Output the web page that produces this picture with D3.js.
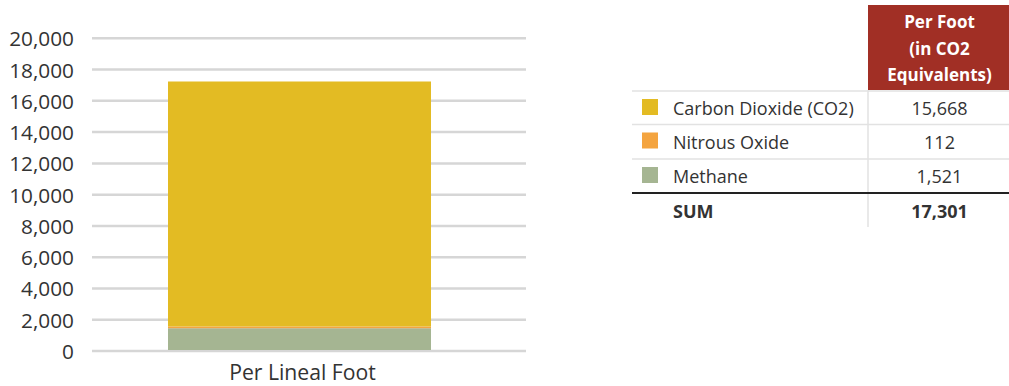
<!DOCTYPE html>
<html>
<head>
<meta charset="utf-8">
<script src="https://cdn.jsdelivr.net/npm/d3@7"></script>
<style>
  body { margin: 0; background: #fff; }
  svg { display: block; font-family: "Open Sans", "Noto Sans", sans-serif; }
</style>
</head>
<body>
<div id="chart"></div>
<script>
// data
const gases = ["Carbon Dioxide (CO2)", "Nitrous Oxide", "Methane"];
const gasKeys = ["co2", "n2o", "ch4"];
const perFoot = [15668, 112, 1521];
const gasColors = ["#e3bb23", "#f4a43f", "#a5b592"];
const category = "Per Lineal Foot";
const yTicks = [0, 2000, 4000, 6000, 8000, 10000, 12000, 14000, 16000, 18000, 20000];
const headerLines = ["Per Foot", "(in CO2", "Equivalents)"];
const sumLabel = "SUM";

const width = 1009, height = 386;

const svg = d3.select("#chart").append("svg")
    .attr("width", width)
    .attr("height", height);

// scales
const y = d3.scaleLinear().domain([0, 20000]).range([351, 38.3]);
const x = d3.scaleBand().domain([category]).range([92, 507])
    .paddingInner(0).paddingOuter(0.289);
const fmt = d3.format(",");

// gridlines
svg.append("g")
    .selectAll("line")
    .data(yTicks)
    .join("line")
    .attr("x1", 92).attr("x2", 526)
    .attr("y1", d => y(d)).attr("y2", d => y(d))
    .attr("stroke", "#d6d6d6")
    .attr("stroke-width", 2.5);

// y axis labels
const yAxis = svg.append("g")
    .attr("transform", "translate(74,0)")
    .call(d3.axisLeft(y).tickValues(yTicks).tickFormat(fmt).tickSize(0).tickPadding(0));
yAxis.select(".domain").remove();
yAxis.selectAll("text")
    .attr("font-family", "'Open Sans', sans-serif")
    .attr("font-size", 20.8)
    .attr("fill", "#333")
    .attr("dy", "0.36em");

// stacked bar: methane at the bottom, then nitrous oxide, then CO2
const row = { cat: category };
gasKeys.forEach((k, i) => row[k] = perFoot[i]);
const order = ["ch4", "n2o", "co2"];
const stacked = d3.stack().keys(order)([row]);
const colorOf = k => gasColors[gasKeys.indexOf(k)];

svg.append("g")
    .attr("transform", "translate(0,1)")
    .selectAll("rect")
    .data(stacked)
    .join("rect")
    .attr("x", x(category))
    .attr("width", x.bandwidth())
    .attr("y", d => y(d[0][1]))
    .attr("height", d => y(d[0][0]) - y(d[0][1]) - (d.key === "ch4" ? 2 : 0))
    .attr("fill", d => colorOf(d.key));

// x label
svg.append("text")
    .attr("x", x(category) + x.bandwidth() / 2 + 3)
    .attr("y", 380)
    .attr("text-anchor", "middle")
    .attr("font-size", 21.2)
    .attr("fill", "#333")
    .text(category);

// table
const tbl = svg.append("g");
const colX = 868, rightX = 1009, leftX = 632;
const valCx = (colX + rightX) / 2 + 1;

tbl.append("rect")
    .attr("x", colX).attr("y", 5)
    .attr("width", rightX - colX).attr("height", 85)
    .attr("fill", "#a12f25");

tbl.selectAll("text.hdr")
    .data(headerLines)
    .join("text")
    .attr("class", "hdr")
    .attr("x", valCx)
    .attr("y", (d, i) => 28 + i * 26.5)
    .attr("text-anchor", "middle")
    .attr("font-size", 17)
    .attr("font-weight", 700)
    .attr("fill", "#fff")
    .text(d => d);

const rowLines = [91, 124.5, 159];
tbl.selectAll("line.row")
    .data(rowLines)
    .join("line")
    .attr("class", "row")
    .attr("x1", leftX).attr("x2", rightX)
    .attr("y1", d => d).attr("y2", d => d)
    .attr("stroke", "#e2e2e2")
    .attr("stroke-width", 1.5);

// vertical separator
tbl.append("line")
    .attr("x1", colX).attr("x2", colX)
    .attr("y1", 90).attr("y2", 227)
    .attr("stroke", "#e2e2e2")
    .attr("stroke-width", 1.5);

// thick line above sum
tbl.append("line")
    .attr("x1", leftX).attr("x2", rightX)
    .attr("y1", 193).attr("y2", 193)
    .attr("stroke", "#222")
    .attr("stroke-width", 2.2);

const rowBase = [115, 148.5, 183];
const rows = tbl.selectAll("g.gas")
    .data(gases)
    .join("g")
    .attr("class", "gas");

rows.append("rect")
    .attr("x", 642)
    .attr("y", (d, i) => rowBase[i] - 16)
    .attr("width", 16).attr("height", 16)
    .attr("fill", (d, i) => gasColors[i]);

rows.append("text")
    .attr("x", 673)
    .attr("y", (d, i) => rowBase[i])
    .attr("font-size", 18)
    .attr("fill", "#333")
    .text(d => d);

rows.append("text")
    .attr("x", valCx)
    .attr("y", (d, i) => rowBase[i])
    .attr("text-anchor", "middle")
    .attr("font-size", 18)
    .attr("fill", "#333")
    .text((d, i) => fmt(perFoot[i]));

tbl.append("text")
    .attr("x", 673).attr("y", 218)
    .attr("font-size", 18).attr("font-weight", 700)
    .attr("fill", "#333")
    .text(sumLabel);

tbl.append("text")
    .attr("x", valCx).attr("y", 218)
    .attr("text-anchor", "middle")
    .attr("font-size", 18).attr("font-weight", 700)
    .attr("fill", "#333")
    .text(fmt(d3.sum(perFoot)));
</script>
</body>
</html>
